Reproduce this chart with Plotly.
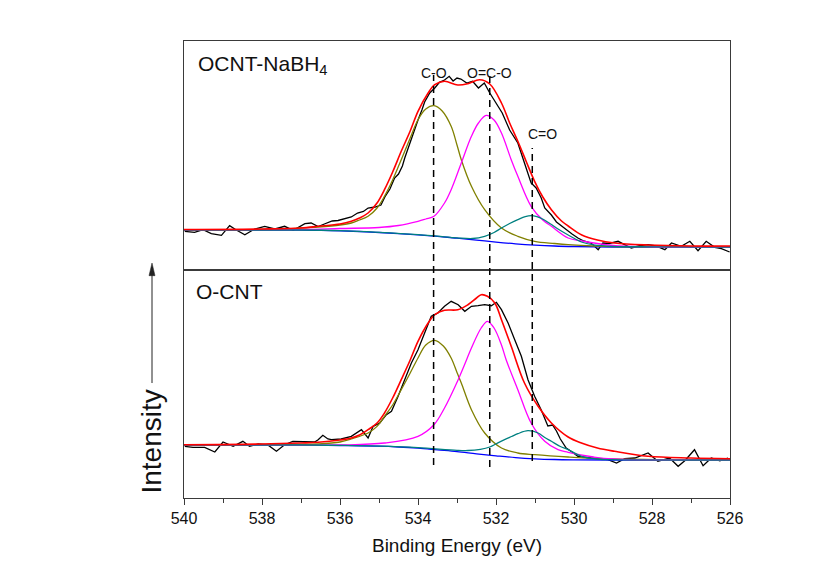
import plotly.graph_objects as go

# ---------------- data (heights in arbitrary intensity units) ----------------
PEAK_POS = [533.6, 532.16, 531.07]
PEAK_LABELS = ["C-O", "O=C-O", "C=O"]
PANEL_LABELS = ["OCNT-NaBH<sub>4</sub>", "O-CNT"]
X_TICKS = [540, 538, 536, 534, 532, 530, 528, 526]

# ---- top panel: OCNT-NaBH4 ----
TOP_RAW = [(539.98, -1.3), (539.73, -2.3), (539.51, 0.3), (539.30, -3.7), (539.04, -5.3), (538.83, 4.3),
           (538.67, 0.3), (538.44, -4.7), (538.19, 1), (537.93, 3.7), (537.67, 1), (537.42, 3.7),
           (537.20, -0.3), (536.90, 6.3), (536.74, 7), (536.56, 3.5), (536.40, 6), (536.20, 9),
           (536.05, 9.5), (535.88, 11.5), (535.71, 13), (535.55, 17), (535.40, 18.5), (535.28, 22),
           (535.10, 23), (534.95, 25), (534.85, 33), (534.72, 41), (534.60, 52), (534.50, 56),
           (534.40, 64), (534.34, 72), (534.17, 92), (534.00, 110), (533.90, 120), (533.83, 128),
           (533.70, 137), (533.57, 142), (533.45, 147.7), (533.32, 150), (533.20, 153.7), (533.10, 149),
           (533.00, 152), (532.90, 151), (532.75, 147), (532.60, 148.7), (532.45, 142), (532.30, 147),
           (532.16, 137), (532.00, 127), (531.84, 117), (531.65, 100), (531.44, 87), (531.27, 67),
           (531.10, 47), (530.97, 42), (530.84, 32), (530.75, 22), (530.58, 15), (530.45, 8),
           (530.32, 4), (530.20, 0), (530.05, -4), (529.90, -8), (529.75, -11), (529.56, -13),
           (529.38, -19.7), (529.26, -13), (529.10, -13.5), (528.87, -11.3), (528.70, -15), (528.53, -18),
           (528.30, -15.5), (528.10, -14.7), (527.90, -16), (527.67, -19.7), (527.50, -13), (527.25, -16.3),
           (527.03, -11.3), (526.82, -20.7), (526.61, -11.3), (526.39, -17.3), (526.22, -18.7), (526.01, -22)]

TOP_BG_X = [540, 537, 536.5, 536, 535.5, 535, 534.5, 534, 533.5, 533, 532.5, 532, 531.5, 531, 530.5, 530, 529, 526]
TOP_BG_Y = [0, 0, -0.3, -0.8, -1.5, -2.5, -3.6, -4.9, -6.4, -8.2, -10.1, -12.1, -13.8, -15.1, -16, -16.5, -17, -17]

TOP_CO_X = [540, 538.5, 537.5, 537, 536.56, 536, 535.71, 535.5, 535.28, 535.05, 534.86, 534.65, 534.43, 534.2,
            534.0, 533.8, 533.59, 533.38, 533.15, 533.0, 532.89, 532.63, 532.29, 531.86, 531.44, 531.01, 530.5,
            530.15, 529.5, 528, 526]
TOP_CO_Y = [0, 0.3, 1, 2, 3, 5, 7, 10, 13.7, 22, 33.7, 50, 70.3, 92, 110.3, 121, 124.3, 119, 103.7, 85, 70.3,
            43.7, 20.3, 2, -6.3, -11.3, -13.5, -14.7, -16, -16.8, -17]

TOP_OCO_X = [540, 537, 536, 535, 534.5, 534, 533.8, 533.59, 533.32, 533.15, 532.89, 532.63, 532.45, 532.25,
             532.05, 531.86, 531.61, 531.44, 531.1, 530.8, 530.58, 530.15, 529.8, 529, 528, 526]
TOP_OCO_Y = [0, 0.5, 1.5, 2.5, 4.5, 8.7, 11, 13.7, 27, 40.3, 67, 93.7, 107, 114.7, 110, 97, 70.3, 53.7, 23.7,
             10, 3.7, -8, -11, -15.5, -16.8, -17]

TOP_CEO_X = [540, 537, 536, 535, 534, 533.5, 533, 532.6, 532.29, 532.05, 531.86, 531.65, 531.44, 531.25, 531.1,
             530.95, 530.77, 530.6, 530.41, 530.15, 529.81, 529.5, 529, 528, 526]
TOP_CEO_Y = [0, 0, -0.6, -2.3, -4.6, -6.2, -7.8, -8.5, -6.3, -2.5, 2, 6.5, 10.3, 13.3, 14.3, 13.3, 10.3, 6, 1,
             -5, -12, -14.8, -16.3, -16.8, -17]

TOP_ENV_X = [540, 538, 537, 536.56, 536, 535.71, 535.5, 535.28, 535.05, 534.86, 534.65, 534.43, 534.2, 534.0,
             533.74, 533.57, 533.32, 532.98, 532.72, 532.42, 532.16, 531.86, 531.65, 531.44, 531.22, 531.01,
             530.8, 530.58, 530.32, 530.15, 529.8, 529.4, 528.96, 528.1, 527, 526]
TOP_ENV_Y = [0.5, 1, 2, 3.7, 6, 8.7, 12, 17, 27, 40.3, 58, 78.7, 99, 118.7, 137, 145.3, 148.7, 145, 146.3,
             150.3, 146, 127, 107, 88.7, 68, 48.7, 33, 20.3, 9, 4, -5, -10, -13, -15, -16, -16]

# ---- bottom panel: O-CNT ----
BOT_RAW = [(539.98, -1.3), (539.77, -2.3), (539.47, -2.3), (539.21, -7), (539.00, 3), (538.74, -1.3),
           (538.49, 3.7), (538.32, -1.3), (538.10, 1), (537.85, 0), (537.63, -6.3), (537.42, 0.3),
           (537.21, 3.7), (536.91, 3.7), (536.65, 3), (536.56, 5.3), (536.44, 9.7), (536.31, 6),
           (536.22, 5.3), (535.97, 6), (535.71, 8.7), (535.45, 15.3), (535.28, 7), (535.15, 18.7),
           (534.98, 22), (534.81, 30.3), (534.68, 33.7), (534.51, 48.7), (534.34, 65.3), (534.17, 82),
           (534.00, 95.3), (533.83, 112), (533.66, 128.7), (533.49, 132), (533.32, 138.7), (533.15, 143.7),
           (532.97, 140.3), (532.80, 133.7), (532.63, 138.7), (532.46, 139.3), (532.29, 140.3), (532.12, 139.3),
           (531.99, 142.7), (531.86, 135.3), (531.69, 122), (531.52, 105.3), (531.35, 88.7), (531.18, 65.3),
           (531.01, 48.7), (530.84, 35), (530.67, 19), (530.55, 20), (530.45, 14), (530.35, 6),
           (530.20, -3), (530.05, -7), (529.90, -11.3), (529.56, -13), (529.13, -14.7), (528.91, -18),
           (528.70, -13.7), (528.44, -13), (528.10, -8), (527.85, -16.3), (527.55, -13), (527.33, -21.3),
           (527.16, -15.7), (526.91, -4.7), (526.69, -20.7), (526.48, -13), (526.26, -15.7), (526.05, -13)]

BOT_BG_X = [540, 537, 536, 535, 534.5, 534, 533.5, 533, 532.5, 532, 531.5, 531, 530.5, 530, 529, 526]
BOT_BG_Y = [0, 0, -0.5, -1.2, -2, -3.2, -4.9, -6.6, -8.8, -10.8, -12.6, -13.8, -14.5, -14.8, -15, -15]

BOT_CO_X = [540, 538, 537, 536.56, 536, 535.71, 535.28, 535.05, 534.86, 534.65, 534.43, 534.2, 534.0, 533.8,
            533.57, 533.35, 533.15, 533.0, 532.89, 532.63, 532.29, 531.86, 531.44, 531.01, 530.15, 529, 526]
BOT_CO_Y = [0, 0.2, 0.5, 1, 3, 6, 12, 18.6, 28.7, 40, 55.3, 72, 87, 100, 104.7, 99, 87, 72.5, 62, 35.3, 12,
            -3, -8, -9.7, -12, -14, -15]

BOT_OCO_X = [540, 537, 536, 534.86, 534.0, 533.59, 533.32, 532.97, 532.81, 532.63, 532.38, 532.22, 532.05,
             531.86, 531.74, 531.44, 531.1, 530.75, 530.41, 530.15, 529.5, 529, 526]
BOT_OCO_Y = [0, -0.3, 0, 2, 8.7, 20.3, 37, 65.3, 80, 97, 117, 123.7, 117, 100, 85.3, 55.3, 22, 3.7, -4.7,
             -7.3, -12, -14, -15]

BOT_CEO_X = [540, 537, 536, 535, 534, 533, 532.72, 532.4, 532.16, 531.98, 531.78, 531.6, 531.44, 531.18,
             530.92, 530.75, 530.58, 530.35, 530.15, 529.81, 529.4, 529, 526]
BOT_CEO_Y = [0, 0, -0.4, -1.1, -2.6, -5.3, -5.5, -4.3, -2, 1.5, 5.3, 8.5, 11.3, 14.3, 12, 7.5, 3.7, -1.5,
             -4.7, -11.3, -14, -14.7, -15]

BOT_ENV_X = [540, 538, 537, 536.56, 536, 535.71, 535.5, 535.28, 535.05, 534.86, 534.65, 534.43, 534.2, 534.0,
             533.74, 533.57, 533.32, 532.98, 532.72, 532.5, 532.38, 532.22, 532.03, 531.86, 531.61, 531.27,
             530.92, 530.58, 530.15, 529.81, 529.4, 528.96, 528.1, 527, 526]
BOT_ENV_Y = [0.3, 1, 2, 2.7, 5, 7, 10, 15.3, 22, 32, 47, 65.3, 85, 103.7, 122, 130.3, 134.7, 135.3, 140.3,
             147, 150.3, 148.7, 142, 125.3, 98.7, 62, 38.7, 22, 8, 2, -3, -6.3, -11.3, -13, -13.7]

# ---------------- styling ----------------
FONT = "Arial, Liberation Sans, sans-serif"
C_RAW, C_BG, C_CO, C_OCO, C_CEO, C_ENV = "#000000", "#0000FF", "#808000", "#FF00FF", "#008080", "#FF0000"
FRAME = "#3a3a3a"

fig = go.Figure()


def add_panel(raw, bg, co, oco, ceo, env, xa, ya):
    fig.add_trace(go.Scatter(x=[p[0] for p in raw], y=[p[1] for p in raw], mode="lines",
                             line=dict(color=C_RAW, width=1.3), xaxis=xa, yaxis=ya))
    for (xs, ys), col in ((bg, C_BG), (co, C_CO), (oco, C_OCO), (ceo, C_CEO)):
        fig.add_trace(go.Scatter(x=xs, y=ys, mode="lines", line=dict(color=col, width=1.3, shape="spline"),
                                 xaxis=xa, yaxis=ya))
    fig.add_trace(go.Scatter(x=env[0], y=env[1], mode="lines", line=dict(color=C_ENV, width=1.6, shape="spline"),
                             xaxis=xa, yaxis=ya))


add_panel(TOP_RAW, (TOP_BG_X, TOP_BG_Y), (TOP_CO_X, TOP_CO_Y), (TOP_OCO_X, TOP_OCO_Y),
          (TOP_CEO_X, TOP_CEO_Y), (TOP_ENV_X, TOP_ENV_Y), "x2", "y")
add_panel(BOT_RAW, (BOT_BG_X, BOT_BG_Y), (BOT_CO_X, BOT_CO_Y), (BOT_OCO_X, BOT_OCO_Y),
          (BOT_CEO_X, BOT_CEO_Y), (BOT_ENV_X, BOT_ENV_Y), "x", "y2")

# dashed guide lines at the peak positions (paper-y extents)
DASH_Y = [(0.0722, 0.9256), (0.0678, 0.9256), (0.081, 0.7659)]
shapes = []
for pos, (y0, y1) in zip(PEAK_POS, DASH_Y):
    shapes.append(dict(type="line", xref="x", yref="paper", x0=pos, x1=pos, y0=y0, y1=y1,
                       line=dict(color="#000000", width=1.5, dash="7px,5px")))

# "Intensity" arrow (shaft + filled head) beside the y axis
AX_X = -0.0586
shapes.append(dict(type="line", xref="paper", yref="paper", x0=AX_X, x1=AX_X, y0=0.2516, y1=0.49,
                   line=dict(color="#222", width=1)))
shapes.append(dict(type="path", xref="paper", yref="paper",
                   path=f"M {AX_X} 0.5142 L {AX_X - 0.0055} 0.4865 L {AX_X + 0.0055} 0.4865 Z",
                   fillcolor="#222", line=dict(color="#222", width=0.5)))

annotations = [
    dict(text=PANEL_LABELS[0], xref="paper", yref="paper", x=0.022, y=0.9475, xanchor="left", yanchor="middle",
         showarrow=False, font=dict(size=21, color="#111", family=FONT)),
    dict(text=PANEL_LABELS[1], xref="paper", yref="paper", x=0.018, y=0.452, xanchor="left", yanchor="middle",
         showarrow=False, font=dict(size=21, color="#111", family=FONT)),
    dict(text=PEAK_LABELS[0], xref="x", yref="paper", x=PEAK_POS[0], y=0.952, showarrow=False,
         font=dict(size=14, color="#111", family=FONT)),
    dict(text=PEAK_LABELS[1], xref="x", yref="paper", x=PEAK_POS[1], y=0.952, showarrow=False,
         font=dict(size=14, color="#111", family=FONT)),
    dict(text=PEAK_LABELS[2], xref="x", yref="paper", x=PEAK_POS[2], y=0.818, xshift=10, showarrow=False,
         font=dict(size=14, color="#111", family=FONT)),
    dict(text="Intensity", xref="paper", yref="paper", x=-0.0604, y=0.1236, xanchor="center", yanchor="middle",
         textangle=-90, showarrow=False, font=dict(size=28, color="#111", family=FONT)),
]

axis_common = dict(showline=True, linecolor=FRAME, linewidth=1.3, mirror=True, showgrid=False, zeroline=False)

fig.update_layout(
    width=832, height=567,
    margin=dict(l=176, r=110, t=33, b=77),
    paper_bgcolor="white", plot_bgcolor="white",
    showlegend=False,
    font=dict(family=FONT, color="#111"),
    xaxis=dict(domain=[0, 1], range=[540, 526], anchor="y2", tickmode="array", tickvals=X_TICKS,
               ticks="outside", ticklen=6, tickwidth=1.2, tickcolor=FRAME,
               minor=dict(dtick=1, tick0=540, ticks="outside", ticklen=4, tickwidth=1.2, tickcolor=FRAME),
               tickfont=dict(size=16, family=FONT, color="#111"),
               title=dict(text="Binding Energy (eV)", font=dict(size=19, family=FONT, color="#111"), standoff=12),
               **axis_common),
    xaxis2=dict(domain=[0, 1], range=[540, 526], anchor="y", matches="x", ticks="", showticklabels=False,
                **axis_common),
    yaxis=dict(domain=[0.4989, 1], range=[-40, 189], anchor="x2", ticks="", showticklabels=False, **axis_common),
    yaxis2=dict(domain=[0, 0.4989], range=[-53, 175], anchor="x", ticks="", showticklabels=False, **axis_common),
    shapes=shapes,
    annotations=annotations,
)

fig.write_html("out.html")
